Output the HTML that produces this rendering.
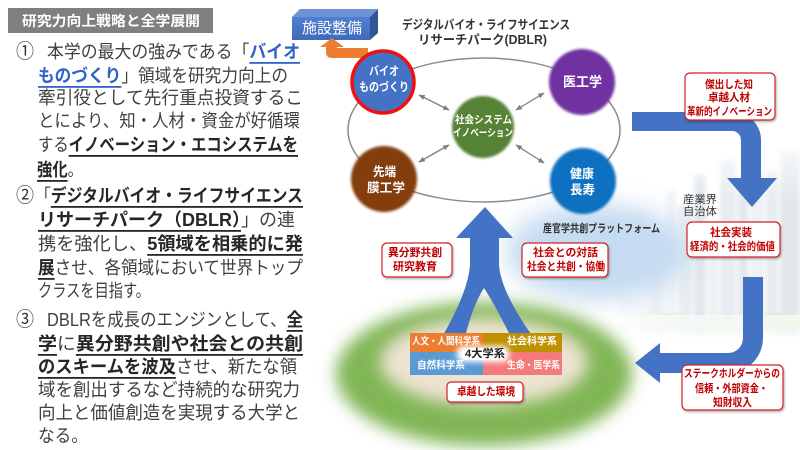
<!DOCTYPE html>
<html><head><meta charset="utf-8">
<style>
html,body{margin:0;padding:0;background:#fff;}
svg{display:block;}
text{font-family:"Liberation Sans","Noto Sans CJK JP",sans-serif;}
.n{fill:#404040;}
.b{font-weight:bold;fill:#262626;text-decoration:underline;}
.bl{font-weight:bold;fill:#2f63c9;text-decoration:underline;}
.w{fill:#fff;font-weight:bold;}
.r{fill:#c00000;font-weight:bold;}
</style></head>
<body>
<svg width="800" height="450" viewBox="0 0 800 450" xmlns="http://www.w3.org/2000/svg">
<defs>
  <filter id="b1" x="-20%" y="-20%" width="140%" height="140%"><feGaussianBlur stdDeviation="1.3"/></filter>
  <filter id="b2" x="-20%" y="-20%" width="140%" height="140%"><feGaussianBlur stdDeviation="2"/></filter>
  <filter id="b3" x="-30%" y="-30%" width="160%" height="160%"><feGaussianBlur stdDeviation="3"/></filter>
  <filter id="b8" x="-30%" y="-30%" width="160%" height="160%"><feGaussianBlur stdDeviation="8"/></filter>
  <filter id="b12" x="-40%" y="-40%" width="180%" height="180%"><feGaussianBlur stdDeviation="12"/></filter>
  <filter id="sh" x="-10%" y="-10%" width="130%" height="140%"><feDropShadow dx="1" dy="1.5" stdDeviation="1" flood-color="#000" flood-opacity="0.3"/></filter>
  <marker id="ah" viewBox="0 0 10 10" refX="9" refY="5" markerWidth="5" markerHeight="5" orient="auto-start-reverse"><path d="M0,1 L10,5 L0,9 z" fill="#7f7f7f"/></marker>
  <linearGradient id="fadeL" x1="0" y1="0" x2="1" y2="0">
    <stop offset="0" stop-color="#fff" stop-opacity="1"/>
    <stop offset="1" stop-color="#fff" stop-opacity="0"/>
  </linearGradient>
  <linearGradient id="fadeT" x1="0" y1="0" x2="0" y2="1">
    <stop offset="0" stop-color="#fff" stop-opacity="1"/>
    <stop offset="1" stop-color="#fff" stop-opacity="0"/>
  </linearGradient>
  <linearGradient id="front" x1="0" y1="0" x2="0" y2="1">
    <stop offset="0" stop-color="#4f7fd0"/>
    <stop offset="1" stop-color="#3f6bbd"/>
  </linearGradient>
</defs>

<!-- ===== LEFT ===== -->
<rect x="8" y="8" width="205" height="25" fill="#7f7f7f"/>
<text x="22" y="21" font-size="14" textLength="178" lengthAdjust="spacingAndGlyphs" dominant-baseline="central" class="w">研究力向上戦略と全学展開</text>

<g font-size="18" dominant-baseline="central">
<text x="16" y="52" font-size="20" textLength="18" lengthAdjust="spacingAndGlyphs" fill="#333">①</text>
<text x="47" y="52" textLength="253" lengthAdjust="spacingAndGlyphs" class="n">本学の最大の強みである「<tspan class="bl">バイオ</tspan></text>
<text x="38" y="76" textLength="250" lengthAdjust="spacingAndGlyphs" class="n"><tspan class="bl">ものづくり</tspan>」領域を研究力向上の</text>
<text x="38" y="98" textLength="265" lengthAdjust="spacingAndGlyphs" class="n">牽引役として先行重点投資するこ</text>
<text x="38" y="121" textLength="262" lengthAdjust="spacingAndGlyphs" class="n">とにより、知・人材・資金が好循環</text>
<text x="38" y="145" textLength="260" lengthAdjust="spacingAndGlyphs" class="n">する<tspan class="b">イノベーション・エコシステムを</tspan></text>
<text x="37" y="170" textLength="46" lengthAdjust="spacingAndGlyphs" class="n"><tspan class="b">強化</tspan>。</text>

<text x="16" y="196" font-size="20" textLength="18" lengthAdjust="spacingAndGlyphs" fill="#333">②</text>
<text x="35" y="196" textLength="268" lengthAdjust="spacingAndGlyphs" class="n">「<tspan class="b">デジタルバイオ・ライフサイエンス</tspan></text>
<text x="38" y="220" textLength="257" lengthAdjust="spacingAndGlyphs" class="n"><tspan class="b">リサーチパーク（DBLR）</tspan>」の連</text>
<text x="38" y="244" textLength="265" lengthAdjust="spacingAndGlyphs" class="n">携を強化し、<tspan class="b">5領域を相乗的に発</tspan></text>
<text x="38" y="268" textLength="265" lengthAdjust="spacingAndGlyphs" class="n"><tspan class="b">展</tspan>させ、各領域において世界トップ</text>
<text x="38" y="291" textLength="112" lengthAdjust="spacingAndGlyphs" class="n">クラスを目指す。</text>

<text x="16" y="320" font-size="20" textLength="18" lengthAdjust="spacingAndGlyphs" fill="#333">③</text>
<text x="47" y="320" textLength="256" lengthAdjust="spacingAndGlyphs" class="n">DBLRを成長のエンジンとして、<tspan class="b">全</tspan></text>
<text x="38" y="344" textLength="265" lengthAdjust="spacingAndGlyphs" class="n"><tspan class="b">学</tspan>に<tspan class="b">異分野共創や社会との共創</tspan></text>
<text x="38" y="367" textLength="259" lengthAdjust="spacingAndGlyphs" class="n"><tspan class="b">のスキームを波及</tspan>させ、新たな領</text>
<text x="38" y="390" textLength="262" lengthAdjust="spacingAndGlyphs" class="n">域を創出するなど持続的な研究力</text>
<text x="38" y="413" textLength="262" lengthAdjust="spacingAndGlyphs" class="n">向上と価値創造を実現する大学と</text>
<text x="38" y="436" textLength="50" lengthAdjust="spacingAndGlyphs" class="n">なる。</text>
</g>

<!-- ===== RIGHT BACKGROUND ===== -->
<!-- skyline -->
<g opacity="0.32" filter="url(#b2)">
  <rect x="618" y="250" width="14" height="85" fill="#b7c5d1"/>
  <rect x="634" y="215" width="12" height="120" fill="#c9d4de"/>
  <rect x="648" y="235" width="16" height="100" fill="#a8b7c4"/>
  <rect x="666" y="190" width="10" height="145" fill="#c9d4de"/>
  <rect x="678" y="205" width="14" height="130" fill="#b7c5d1"/>
  <rect x="694" y="175" width="12" height="160" fill="#a8b7c4"/>
  <rect x="708" y="230" width="10" height="105" fill="#c9d4de"/>
  <rect x="720" y="160" width="16" height="175" fill="#b7c5d1"/>
  <rect x="738" y="185" width="10" height="150" fill="#a8b7c4"/>
  <rect x="750" y="140" width="14" height="195" fill="#c9d4de"/>
  <rect x="766" y="170" width="12" height="165" fill="#b7c5d1"/>
  <rect x="780" y="150" width="20" height="185" fill="#a8b7c4"/>
  <ellipse cx="660" cy="322" rx="30" ry="10" fill="#9fc28f"/>
  <ellipse cx="720" cy="325" rx="30" ry="9" fill="#a9c99a"/>
  <ellipse cx="780" cy="322" rx="25" ry="10" fill="#9fc28f"/>
</g>
<rect x="600" y="130" width="90" height="220" fill="url(#fadeL)"/>
<rect x="600" y="130" width="200" height="70" fill="url(#fadeT)"/>
<rect x="600" y="315" width="200" height="35" fill="#fff" opacity="0.6"/>

<!-- blue cloud -->
<ellipse cx="598" cy="252" rx="92" ry="48" fill="#c5dbf1" filter="url(#b12)"/>

<!-- green ground -->
<ellipse cx="484" cy="374" rx="148" ry="72" fill="#80b654" filter="url(#b8)"/>
<ellipse cx="484" cy="362" rx="104" ry="44" fill="#ede3d2" filter="url(#b8)"/>

<!-- DBLR ellipse -->
<ellipse cx="484" cy="130" rx="136" ry="72" fill="none" stroke="#8c8c8c" stroke-width="1.5"/>

<!-- title -->
<text x="402" y="25" font-size="12.5" font-weight="bold" fill="#333" textLength="168" lengthAdjust="spacingAndGlyphs" dominant-baseline="central">デジタルバイオ・ライフサイエンス</text>
<text x="418" y="40" font-size="12.5" font-weight="bold" fill="#333" textLength="129" lengthAdjust="spacingAndGlyphs" dominant-baseline="central">リサーチパーク(DBLR)</text>

<!-- 施設整備 box -->
<polygon points="292,17 300,9 378,9 370,17" fill="#6e92d6"/>
<polygon points="370,17 378,9 378,33 370,40" fill="#2f5597"/>
<rect x="292" y="17" width="78" height="23" fill="url(#front)"/>
<text x="302" y="28.5" font-size="15" fill="#fff" textLength="60" lengthAdjust="spacingAndGlyphs" dominant-baseline="central">施設整備</text>

<!-- orange arrow -->
<path d="M368,48 L337,48 L337,47 L344,47 L332,38 L320,47 L326,47 L326,52 Q326,58 332,58 L368,58 Z" fill="#ed7d31"/>

<!-- double arrows -->
<g stroke="#7f7f7f" stroke-width="1.3" marker-start="url(#ah)" marker-end="url(#ah)">
  <line x1="419" y1="95" x2="449" y2="110"/>
  <line x1="544" y1="93" x2="516" y2="110"/>
  <line x1="419" y1="162" x2="449" y2="145"/>
  <line x1="516" y1="145" x2="544" y2="163"/>
</g>

<!-- circles -->
<circle cx="582" cy="82" r="33" fill="#7030a0" filter="url(#b1)"/>
<circle cx="483" cy="127" r="31" fill="#548235" filter="url(#b1)"/>
<circle cx="384" cy="179" r="33" fill="#843c0c" filter="url(#b1)"/>
<circle cx="583" cy="181" r="33" fill="#0f6fc0" filter="url(#b1)"/>
<circle cx="383" cy="82" r="31" fill="#4472c4" stroke="#ee1111" stroke-width="3.5"/>

<g dominant-baseline="central" class="w">
  <text x="369" y="71" font-size="12" textLength="30" lengthAdjust="spacingAndGlyphs" class="w">バイオ</text>
  <text x="359" y="87" font-size="12" textLength="50" lengthAdjust="spacingAndGlyphs" class="w">ものづくり</text>
  <text x="563" y="82" font-size="13.5" textLength="39" lengthAdjust="spacingAndGlyphs" class="w">医工学</text>
  <text x="455" y="120" font-size="10.5" textLength="57" lengthAdjust="spacingAndGlyphs" class="w">社会システム</text>
  <text x="453" y="133" font-size="10.5" textLength="60" lengthAdjust="spacingAndGlyphs" class="w">イノベーション</text>
  <text x="373" y="172" font-size="12.5" textLength="23" lengthAdjust="spacingAndGlyphs" class="w">先端</text>
  <text x="367" y="188" font-size="12.5" textLength="38" lengthAdjust="spacingAndGlyphs" class="w">膜工学</text>
  <text x="570" y="174" font-size="12.5" textLength="24" lengthAdjust="spacingAndGlyphs" class="w">健康</text>
  <text x="570" y="190" font-size="12.5" textLength="25" lengthAdjust="spacingAndGlyphs" class="w">長寿</text>
</g>

<!-- big right arrows -->
<path d="M632,112 L733,112 A28,28 0 0 1 761,140 L761,178 L777,178 L752,207 L727,178 L741,178 L741,140 A9,9 0 0 0 732,131 L632,131 Z" fill="#4472c4"/>
<path d="M743,277 L763,277 L763,338 A35,35 0 0 1 728,373 L660,373 L660,383 L635,363 L660,343 L660,353 L728,353 A15,15 0 0 0 743,338 Z" fill="#4472c4"/>

<!-- 人 arrow -->
<path d="M485,207 L513,238 L499,238 L499,265 Q501,292 533,337 L511,337 Q495,305 484,288 Q473,305 465,337 L442,337 Q468,292 470,265 L470,238 L456,238 Z" fill="#4472c4"/>

<!-- labels text -->
<text x="683" y="200" font-size="11" fill="#333" textLength="34" lengthAdjust="spacingAndGlyphs" dominant-baseline="central">産業界</text>
<text x="683" y="212" font-size="11" fill="#333" textLength="34" lengthAdjust="spacingAndGlyphs" dominant-baseline="central">自治体</text>
<text x="543" y="229" font-size="11" font-weight="bold" fill="#333" textLength="117" lengthAdjust="spacingAndGlyphs" dominant-baseline="central">産官学共創プラットフォーム</text>

<!-- colored blocks -->
<rect x="410" y="333" width="73" height="19" fill="#ed7d31"/>
<rect x="483" y="333" width="79" height="19" fill="#bf9000"/>
<rect x="410" y="352" width="73" height="23" fill="#5b9bd5"/>
<rect x="483" y="352" width="79" height="23" fill="#f47a7c"/>
<g dominant-baseline="central" font-size="10">
  <text x="412" y="342" textLength="68" lengthAdjust="spacingAndGlyphs" class="w">人文・人間科学系</text>
  <text x="507" y="342" textLength="50" lengthAdjust="spacingAndGlyphs" class="w">社会科学系</text>
  <text x="417" y="366" textLength="48" lengthAdjust="spacingAndGlyphs" class="w">自然科学系</text>
  <text x="507" y="366" textLength="53" lengthAdjust="spacingAndGlyphs" class="w">生命・医学系</text>
</g>
<rect x="457" y="346" width="52" height="16" rx="6" fill="#fff" filter="url(#b3)"/>
<rect x="462" y="348" width="42" height="12" rx="4" fill="#fff"/>
<text x="465" y="354" font-size="11" font-weight="bold" fill="#222" textLength="40" lengthAdjust="spacingAndGlyphs" dominant-baseline="central">4大学系</text>

<!-- red bordered boxes -->
<g fill="#fff" stroke="#d0202a" stroke-width="1.2" filter="url(#sh)">
  <rect x="382" y="243" width="70" height="34" rx="5"/>
  <rect x="522" y="243" width="86" height="34" rx="5"/>
  <rect x="685" y="73" width="90" height="47" rx="5"/>
  <rect x="687" y="222" width="93" height="35" rx="5"/>
  <rect x="682" y="365" width="101" height="45" rx="5"/>
  <rect x="447" y="382" width="76" height="20" rx="4"/>
</g>
<g dominant-baseline="central" font-size="11">
  <text x="388" y="253" textLength="54" lengthAdjust="spacingAndGlyphs" class="r">異分野共創</text>
  <text x="393" y="267" textLength="44" lengthAdjust="spacingAndGlyphs" class="r">研究教育</text>
  <text x="533" y="253" textLength="65" lengthAdjust="spacingAndGlyphs" class="r">社会との対話</text>
  <text x="527" y="267" textLength="78" lengthAdjust="spacingAndGlyphs" class="r">社会と共創・協働</text>
  <text x="705" y="85" textLength="48" lengthAdjust="spacingAndGlyphs" class="r">傑出した知</text>
  <text x="708" y="98" textLength="42" lengthAdjust="spacingAndGlyphs" class="r">卓越人材</text>
  <text x="687" y="112" textLength="85" lengthAdjust="spacingAndGlyphs" class="r">革新的イノベーション</text>
  <text x="710" y="233" textLength="42" lengthAdjust="spacingAndGlyphs" class="r">社会実装</text>
  <text x="690" y="247" textLength="85" lengthAdjust="spacingAndGlyphs" class="r">経済的・社会的価値</text>
  <text x="684" y="374" textLength="96" lengthAdjust="spacingAndGlyphs" class="r">ステークホルダーからの</text>
  <text x="695" y="389" textLength="73" lengthAdjust="spacingAndGlyphs" class="r">信頼・外部資金・</text>
  <text x="713" y="403" textLength="39" lengthAdjust="spacingAndGlyphs" class="r">知財収入</text>
  <text x="457" y="392" textLength="58" lengthAdjust="spacingAndGlyphs" class="r">卓越した環境</text>
</g>
</svg>
</body></html>
